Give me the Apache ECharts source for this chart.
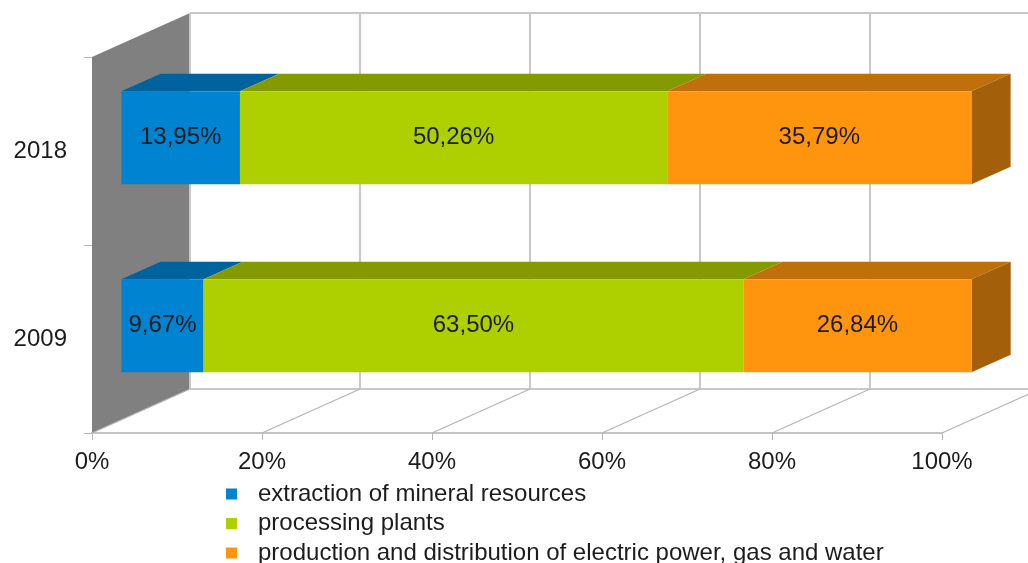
<!DOCTYPE html>
<html>
<head>
<meta charset="utf-8">
<title>Industrial production structure</title>
<script src="https://cdn.jsdelivr.net/npm/echarts@6/dist/echarts.min.js"></script>
<style>
html, body { margin: 0; padding: 0; background: #fff; }
#chart { width: 1028px; height: 563px; }
</style>
</head>
<body>
<div id="chart"></div>
<script>
var years = ['2009', '2018'];
var seriesNames = [
    'extraction of mineral resources',
    'processing plants',
    'production and distribution of electric power, gas and water'
];
var extraction = [9.67, 13.95];
var processing = [63.50, 50.26];
var utilities = [26.84, 35.79];
var ticks = [0, 20, 40, 60, 80, 100];

var colors = ['#0084d1', '#aecf00', '#ff950e'];
var DEPTH = [98, -44];          // full depth of the box, in pixels
var BAR_FRONT = 0.3, BAR_BACK = 0.7;
var FONT = '"Liberation Sans", Arial, sans-serif';
var TEXT = '#1c1c1c';

function shade(hex, k) {
    var n = parseInt(hex.slice(1), 16);
    var r = Math.round((n >> 16 & 255) * k),
        g = Math.round((n >> 8 & 255) * k),
        b = Math.round((n & 255) * k);
    return 'rgb(' + r + ',' + g + ',' + b + ')';
}

function fmt(v) {
    return v.toFixed(2).replace('.', ',') + '%';
}

// walls, floor and back grid lines
function renderWalls(params, api) {
    var cs = params.coordSys;
    var dx = DEPTH[0], dy = DEPTH[1];
    var x0 = cs.x, top = cs.y, bottom = cs.y + cs.height;
    var x = api.coord([api.value(0), 0])[0];
    var xEnd = api.coord([ticks[ticks.length - 1], 0])[0];
    var grid = { stroke: '#c8c8c8', lineWidth: 2 };
    var children = [];
    if (params.dataIndex === 0) {
        children.push({
            type: 'polygon',
            shape: { points: [[x0, top], [x0 + dx, top + dy], [x0 + dx, bottom + dy], [x0, bottom]] },
            style: { fill: '#808080' }
        });
        children.push({
            type: 'line',
            shape: { x1: x0 + dx, y1: top + dy, x2: xEnd + dx, y2: top + dy },
            style: grid
        });
        children.push({
            type: 'line',
            shape: { x1: x0 + dx, y1: bottom + dy, x2: xEnd + dx, y2: bottom + dy },
            style: grid
        });
    }
    children.push({
        type: 'line',
        shape: { x1: x + dx, y1: top + dy, x2: x + dx, y2: bottom + dy },
        style: grid
    });
    children.push({
        type: 'line',
        shape: { x1: x, y1: bottom, x2: x + dx, y2: bottom + dy },
        style: { stroke: '#b4b4b4', lineWidth: 1.2 }
    });
    return { type: 'group', children: children };
}

function barSeries(idx, values) {
    var parts = [extraction, processing, utilities];
    var data = years.map(function (y, i) {
        var start = 0;
        for (var k = 0; k < idx; k++) start += parts[k][i];
        return [start, start + values[i], i, values[i]];
    });
    var color = colors[idx];
    var isLast = idx === parts.length - 1;
    return {
        type: 'custom',
        name: seriesNames[idx],
        itemStyle: { color: color },
        encode: { x: [0, 1], y: 2 },
        z: 3,
        data: data,
        renderItem: function (params, api) {
            var cat = api.value(2);
            var p0 = api.coord([api.value(0), cat]);
            var p1 = api.coord([api.value(1), cat]);
            var h = params.coordSys.height / years.length * 0.495;
            var fx = BAR_FRONT * DEPTH[0], fy = BAR_FRONT * DEPTH[1];
            var bx = (BAR_BACK - BAR_FRONT) * DEPTH[0], by = (BAR_BACK - BAR_FRONT) * DEPTH[1];
            var L = p0[0] + fx, R = p1[0] + fx;
            var T = p0[1] + fy - h / 2, B = T + h;
            var children = [{
                type: 'polygon',
                shape: { points: [[L, T], [R, T], [R + bx, T + by], [L + bx, T + by]] },
                style: { fill: shade(color, 0.75) }
            }];
            if (isLast) {
                children.push({
                    type: 'polygon',
                    shape: { points: [[R, T], [R + bx, T + by], [R + bx, B + by], [R, B]] },
                    style: { fill: shade(color, 0.64) }
                });
            }
            children.push({
                type: 'rect',
                shape: { x: L, y: T, width: R - L, height: h },
                style: { fill: color }
            });
            children.push({
                type: 'text',
                style: {
                    x: (L + R) / 2, y: (T + B) / 2,
                    text: fmt(api.value(3)),
                    align: 'center', verticalAlign: 'middle',
                    font: '24px ' + FONT, fill: TEXT
                }
            });
            return { type: 'group', children: children };
        }
    };
}

var chart = echarts.init(document.getElementById('chart'));
var option = {
    animation: false,
    backgroundColor: '#fff',
    grid: { left: 92, right: 86, top: 57, bottom: 130 },
    legend: {
        orient: 'vertical',
        left: 226,
        top: 482,
        height: 100,
        padding: 0,
        icon: 'rect',
        itemWidth: 11,
        itemHeight: 11,
        itemGap: 5.5,
        data: seriesNames,
        textStyle: { fontSize: 24, lineHeight: 24, fontFamily: FONT, color: TEXT, padding: [0, 0, 0, 16] }
    },
    xAxis: {
        type: 'value',
        min: 0, max: 100, interval: 20,
        axisLine: { show: true, lineStyle: { color: '#c4c4c4', width: 2 } },
        axisTick: { show: true, length: 7, lineStyle: { color: '#b4b4b4' } },
        splitLine: { show: false },
        axisLabel: { formatter: '{value}%', fontSize: 24, fontFamily: FONT, color: TEXT, margin: 17 }
    },
    yAxis: {
        type: 'category',
        data: years,
        axisLine: { show: false },
        axisTick: { show: true, length: 8, lineStyle: { color: '#b4b4b4' } },
        axisLabel: { fontSize: 24, fontFamily: FONT, color: TEXT, margin: 25 }
    },
    series: [
        {
            type: 'custom',
            name: 'walls',
            silent: true,
            z: 1,
            encode: { x: 0, y: 1 },
            data: ticks.map(function (t) { return [t, 0]; }),
            renderItem: renderWalls
        },
        barSeries(0, extraction),
        barSeries(1, processing),
        barSeries(2, utilities)
    ]
};
chart.setOption(option);
window.addEventListener('resize', function () {
    chart.resize();
});
</script>
</body>
</html>
